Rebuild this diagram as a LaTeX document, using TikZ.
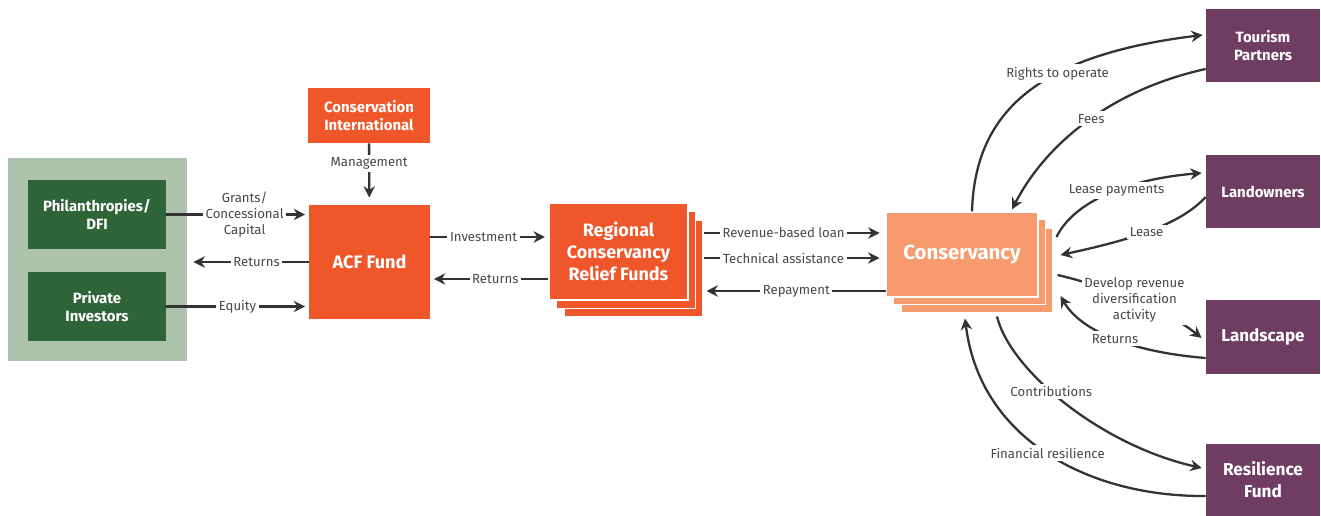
\documentclass[tikz,border=0pt]{standalone}
\usepackage{fontspec}
\setmainfont{Fira Sans}
\usetikzlibrary{calc,arrows.meta}
\definecolor{sage}{RGB}{174,195,174}
\definecolor{forest}{RGB}{46,100,56}
\definecolor{acforange}{RGB}{239,87,43}
\definecolor{salmon}{RGB}{247,155,111}
\definecolor{plum}{RGB}{111,61,97}
\definecolor{ink}{RGB}{51,51,51}
\definecolor{labelgray}{RGB}{72,72,72}
\tikzset{>=stealth}
\tikzset{
  box/.style={text=white, align=center, inner sep=0pt, font=\bfseries\fontsize{8.5}{10.5}\selectfont},
  greenbox/.style={box, fill=forest, minimum width=2.76cm, minimum height=1.38cm},
  orangebox/.style={box, fill=acforange},
  stackbox/.style={draw=white, line width=0.6pt},
  purplebox/.style={box, fill=plum, minimum width=2.28cm, minimum height=1.46cm},
  flow/.style={draw=ink, line width=1.3pt, -{Stealth[length=6.5pt,width=6.5pt]}},
  lbl/.style={fill=white, text=labelgray, font=\fontsize{7.5}{9}\selectfont, inner sep=1.5pt, align=center}
}
\begin{document}
\begin{tikzpicture}[x=0.02cm,y=-0.02cm]
  \useasboundingbox (0,0) rectangle (1321,516);

  % Investors
  \node[fill=sage, minimum width=3.58cm, minimum height=4.06cm] (inv) at (97.5,259.5) {};
  \node[greenbox] (phil) at (97,214.5) {Philanthropies/\\DFI};
  \node[greenbox] (priv) at (97,306.5) {Private\\Investors};

  % Fund and manager
  \node[orangebox, minimum width=2.44cm, minimum height=1.1cm] (ci) at (369,115.5) {Conservation\\International};
  \node[orangebox, minimum width=2.42cm, minimum height=2.28cm, font=\bfseries\fontsize{10.3}{12}\selectfont] (acf) at (369.5,262) {ACF Fund};

  % Regional funds (stack)
  \node[orangebox, stackbox, minimum width=2.78cm, minimum height=1.94cm] (rcrf3) at (633.5,268.5) {};
  \node[orangebox, stackbox, minimum width=2.78cm, minimum height=1.94cm] (rcrf2) at (626,260) {};
  \node[orangebox, stackbox, minimum width=2.78cm, minimum height=1.94cm, font=\bfseries\fontsize{10.2}{12.5}\selectfont] (rcrf) at (618.5,251.5) {Regional\\Conservancy\\Relief Funds};

  % Conservancy (stack)
  \node[box, fill=salmon, stackbox, minimum width=3.04cm, minimum height=1.7cm] (cons3) at (977,270.5) {};
  \node[box, fill=salmon, stackbox, minimum width=3.04cm, minimum height=1.7cm] (cons2) at (969.5,262) {};
  \node[box, fill=salmon, stackbox, minimum width=3.04cm, minimum height=1.7cm, font=\bfseries\fontsize{11.6}{13}\selectfont] (cons) at (962,254.5) {Conservancy};

  % Partners
  \node[purplebox] (tour) at (1263,45.5) {Tourism\\Partners};
  \node[purplebox] (land) at (1263,191.5) {Landowners};
  \node[purplebox, minimum height=1.48cm, font=\bfseries\fontsize{9.7}{12}\selectfont] (lscape) at (1263,337) {Landscape};
  \node[purplebox, minimum height=1.44cm, font=\bfseries\fontsize{9.8}{12.5}\selectfont] (res) at (1263,480) {Resilience\\Fund};

  % Left flows
  \draw[flow, shorten >=2pt] (phil.east) -- node[lbl, pos=0.55] {Grants/\\Concessional\\Capital} (phil.east -| acf.west);
  \draw[flow, shorten >=3.5pt] (acf.west) -- node[lbl, pos=0.43] {Returns} (acf.west -| inv.east);
  \draw[flow, shorten >=2pt] (priv.east) -- node[lbl, pos=0.5] {Equity} (priv.east -| acf.west);
  \draw[flow, shorten >=4pt] (ci) -- node[lbl, pos=0.33] {Management} (acf);

  % Middle flows
  \coordinate (invest) at ($(acf.east)+(0,-25)$);
  \coordinate (back) at ($(rcrf.west)+(0,27.5)$);
  \draw[flow, shorten >=2pt] (invest) -- node[lbl, pos=0.45] {Investment} (invest -| rcrf.west);
  \draw[flow, shorten >=2pt] (back) -- node[lbl, pos=0.45] {Returns} (back -| acf.east);

  \coordinate (loan) at ($(rcrf3.east)+(0,-35.5)$);
  \coordinate (help) at ($(rcrf3.east)+(0,-10.5)$);
  \coordinate (repay) at ($(cons.west)+(0,36.5)$);
  \draw[flow, shorten >=3.4pt] (loan) -- node[lbl, pos=0.44] {Revenue-based loan} (loan -| cons.west);
  \draw[flow, shorten >=3.4pt] (help) -- node[lbl, pos=0.44] {Technical assistance} (help -| cons.west);
  \draw[flow, shorten >=1.7pt] (repay) -- node[lbl, pos=0.49] {Repayment} (repay -| rcrf3.east);

  % Right flows
  \draw[flow] ($(cons.north)+(10,0)$) .. controls (975,110) and (1040,55) .. ($(tour.west)+(-3,-10.5)$)
    node[lbl, pos=0.62] {Rights to operate};
  \draw[flow] ($(tour.west)+(0,23.5)$) .. controls (1110,90) and (1045,145) .. ($(cons.north)+(50,-2)$)
    node[lbl, pos=0.47] {Fees};
  \draw[flow] ($(cons.east)+(18,-17.5)$) .. controls (1072,205) and (1120,180) .. ($(land.west)+(-4,-18.5)$)
    node[lbl, pos=0.58] {Lease payments};
  \draw[flow] ($(land.west)+(0,5.5)$) .. controls (1180,225) and (1130,240) .. ($(cons.east)+(22,0.5)$)
    node[lbl, pos=0.52] {Lease};
  \draw[flow] ($(cons.east)+(19,20.5)$) .. controls (1100,285) and (1160,305) .. ($(lscape.west)+(-4,1)$)
    node[lbl, pos=0.53] {Develop revenue\\diversification\\activity};
  \draw[flow] ($(lscape.west)+(0,21)$) .. controls (1130,352) and (1080,330) .. ($(cons.east)+(22,41.5)$)
    node[lbl, pos=0.48] {Returns};
  \draw[flow] ($(cons.south)+(35,19)$) .. controls (1010,370) and (1100,445) .. ($(res.west)+(-4,-12)$)
    node[lbl, pos=0.43] {Contributions};
  \draw[flow] ($(res.west)+(0,16)$) .. controls (1090,497) and (980,440) .. ($(cons.south)+(3,21)$)
    node[lbl, pos=0.5] {Financial resilience};
\end{tikzpicture}
\end{document}
